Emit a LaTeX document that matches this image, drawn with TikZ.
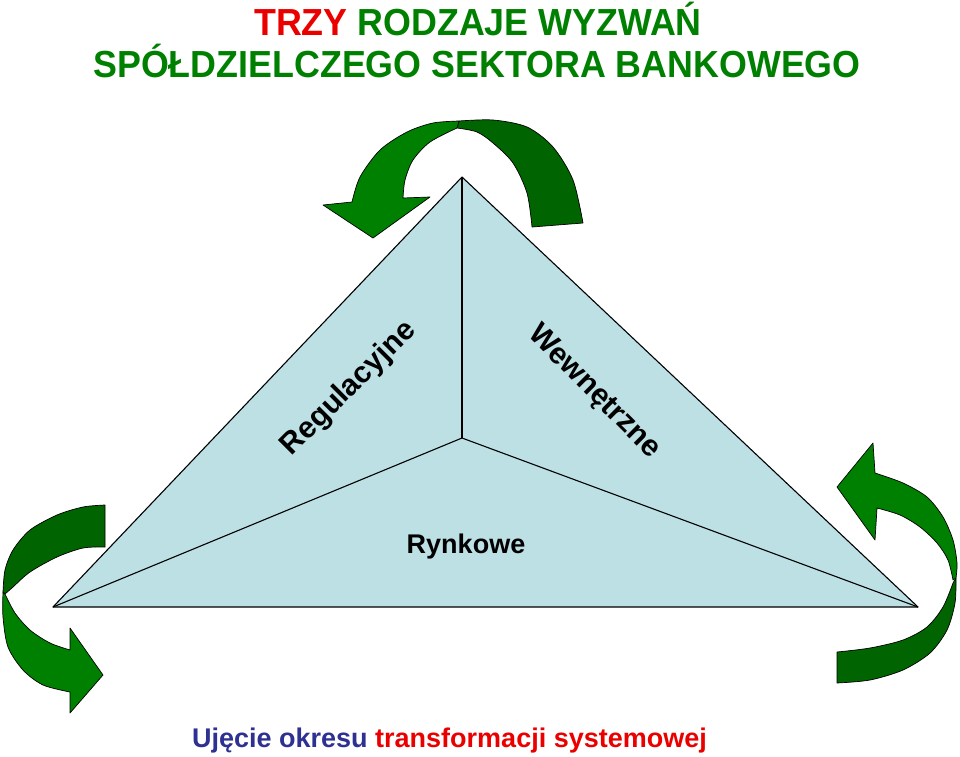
\documentclass[tikz,border=0pt]{standalone}
\usepackage{fontspec}
\setmainfont{Liberation Sans}
\definecolor{tgreen}{RGB}{0,128,0}
\definecolor{tred}{RGB}{235,0,0}
\definecolor{navy}{RGB}{46,49,146}
\definecolor{trifill}{RGB}{189,224,229}
\definecolor{arrfront}{RGB}{0,128,0}
\definecolor{arrback}{RGB}{0,100,0}
\tikzset{
  tri/.style={draw=black, line width=1.1pt, fill=trifill, line join=round},
  triline/.style={draw=black, line width=1.1pt},
  front/.style={draw=black, line width=0.7pt, fill=arrfront, line join=round},
  back/.style={draw=black, line width=0.7pt, fill=arrback, line join=round},
  lbl/.style={font=\fontsize{30}{32}\selectfont\bfseries, text=black, inner sep=0pt}
}
\begin{document}
\begin{tikzpicture}[x=1pt,y=-1pt]
\useasboundingbox (0,0) rectangle (960,756);
% title
\node[anchor=base, inner sep=0pt] (t1) at (478,35) {\scalebox{0.95}[1]{\fontsize{37.7}{40}\selectfont\bfseries\textcolor{tred}{TRZY} \textcolor{tgreen}{RODZAJE WYZWAŃ}}};
\node[anchor=base, inner sep=0pt] (t2) at (477,77) {\scalebox{0.95}[1]{\fontsize{37.7}{40}\selectfont\bfseries\textcolor{tgreen}{SPÓŁDZIELCZEGO SEKTORA BANKOWEGO}}};
% triangle
\coordinate (A) at (462,177);
\coordinate (L) at (53,607);
\coordinate (R) at (918,607);
\coordinate (C) at (462,438);
\path[tri] (A) -- (L) -- (R) -- cycle;
\draw[triline] (A) -- (C);
\draw[triline] (L) -- (C) -- (R);
% labels
\node[lbl, rotate=45] (reg) at (349,389) {Regulacyjne};
\node[lbl, rotate=-45] (wew) at (594,392) {Wewnętrzne};
\node[lbl, anchor=base, font=\fontsize{27}{30}\selectfont\bfseries] (ryn) at (466,553) {Rynkowe};
% top arrow: back (dark) part
\path[back] (459,121) -- plot[smooth] coordinates {(459,121) (493,120) (527,127) (553,147) (573,180) (583,223)}
  -- (532,227) -- plot[smooth] coordinates {(532,227) (527,193) (513,163) (493,143) (477,132) (457,128)} -- cycle;
% top arrow: front part
\path[front] (352,202) -- plot[smooth] coordinates {(352,202) (360,177) (380,150) (407,132) (433,123) (459,121)}
  -- (457,128) -- plot[smooth] coordinates {(457,128) (430,142) (413,160) (405,180) (403,198)}
  -- (430,197) -- (373,238) -- (323,205) -- cycle;
% left arrow: back part
\path[back] (105,505) -- plot[smooth] coordinates {(105,505) (83,507) (57,515) (30,530) (13,550) (5,570) (3,592)}
  -- (5,594) -- plot[smooth] coordinates {(5,594) (13,587) (30,572) (57,557) (83,548) (105,547)} -- cycle;
% left arrow: front part
\path[front] (3,592) -- plot[smooth] coordinates {(3,592) (3,617) (8,647) (23,670) (43,685) (70,692)}
  -- (70,713) -- (103,675) -- (70,628) -- (70,650)
  -- plot[smooth] coordinates {(70,650) (50,643) (30,630) (15,613) (5,594)} -- cycle;
% right arrow: back part
\path[back] (956,578) -- plot[smooth] coordinates {(956,578) (955,603) (947,630) (930,653) (903,670) (870,680) (837,683)}
  -- (837,652) -- plot[smooth] coordinates {(837,652) (870,648) (903,640) (927,627) (943,607) (953,583)} -- cycle;
% right arrow: front part
\path[front] (875,473) -- plot[smooth] coordinates {(875,473) (903,483) (927,497) (943,517) (953,540) (957,563) (956,578)}
  -- (953,580) -- plot[smooth] coordinates {(953,580) (948,560) (937,543) (920,527) (900,515) (877,508)}
  -- (875,540) -- (837,487) -- (873,443) -- cycle;
% bottom text
\node[anchor=base, inner sep=0pt, font=\fontsize{27}{30}\selectfont\bfseries] (bt) at (449.5,747) {\textcolor{navy}{Ujęcie okresu} \textcolor{tred}{transformacji systemowej}};
\end{tikzpicture}
\end{document}
